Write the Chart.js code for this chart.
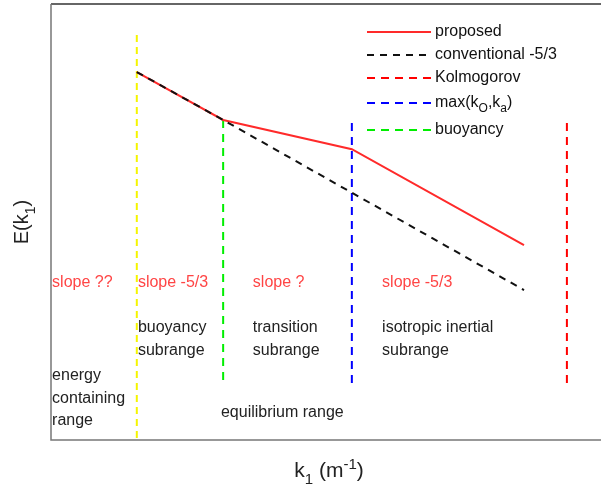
<!DOCTYPE html>
<html>
<head>
<meta charset="utf-8">
<script src="https://cdn.jsdelivr.net/npm/chart.js@4/dist/chart.umd.min.js"></script>
<style>
    html, body { margin: 0; padding: 0; background: #fff; }
    #wrap { width: 601px; height: 489px; }
</style>
</head>
<body>
<div id="wrap"><canvas id="spectrumChart" width="601" height="489"></canvas></div>
<script>
// wavenumber axis (log k, arbitrary units) and spectrum level (log E, arbitrary units)
const proposedK = [1.56, 3.13, 5.47, 8.6];
const proposedE = [8.44, 7.34, 6.67, 4.47];
const conventionalK = [1.56, 3.13, 8.6];
const conventionalE = [8.44, 7.34, 3.44];

// boundaries between ranges
const energyK = 1.56;
const buoyancyK = 3.13;
const maxKoKa = 5.47;
const kolmogorovK = 9.38;
const boundaryTopE = [9.29, 7.34, 7.27, 7.27];
const boundaryBottomE = [0, 1.31, 1.31, 1.31];

// range names written on the plot
const slopeLabels = ["slope ??", "slope -5/3", "slope ?", "slope -5/3"];
const rangeLabels = [
    ["energy", "containing", "range"],
    ["buoyancy", "subrange"],
    ["transition", "subrange"],
    ["isotropic inertial", "subrange"],
    ["equilibrium range"]
];

const FONT = "'Liberation Sans', Arial, sans-serif";

function vline(x, top, bottom, color, dash) {
    return {
        data: [{ x: x, y: top }, { x: x, y: bottom }],
        borderColor: color,
        borderWidth: 2,
        borderDash: dash,
        pointRadius: 0,
        showLine: true,
        order: 3
    };
}

const datasets = [
    {
        label: "conventional -5/3",
        data: conventionalK.map((k, i) => ({ x: k, y: conventionalE[i] })),
        borderColor: "#111",
        borderWidth: 2,
        borderDash: [7, 6],
        pointRadius: 0,
        showLine: true,
        order: 1
    },
    {
        label: "proposed",
        data: proposedK.map((k, i) => ({ x: k, y: proposedE[i] })),
        borderColor: "#ff2a2a",
        borderWidth: 2,
        pointRadius: 0,
        showLine: true,
        order: 2
    },
    Object.assign({ label: "energy" }, vline(energyK, boundaryTopE[0], boundaryBottomE[0], "#f5f500", [7, 5])),
    Object.assign({ label: "buoyancy" }, vline(buoyancyK, boundaryTopE[1], boundaryBottomE[1], "#00ee00", [8, 6])),
    Object.assign({ label: "max(kO,ka)" }, vline(maxKoKa, boundaryTopE[2], boundaryBottomE[2], "#0000ff", [8, 6])),
    Object.assign({ label: "Kolmogorov" }, vline(kolmogorovK, boundaryTopE[3], boundaryBottomE[3], "#ff0000", [8, 6]))
];

// legend entries: colour, dash, text parts (with subscripts)
const legendItems = [
    { color: "#ff2a2a", dash: [], parts: [["proposed"]] },
    { color: "#111", dash: [7, 6], parts: [["conventional -5/3"]] },
    { color: "#ff0000", dash: [8, 6], parts: [["Kolmogorov"]] },
    { color: "#0000ff", dash: [8, 6], parts: [["max(k"], ["O", "sub"], [",k"], ["a", "sub"], [")"]] },
    { color: "#00ee00", dash: [8, 6], parts: [["buoyancy"]] }
];
const legendRows = [32, 55, 78, 103, 130];

function drawParts(ctx, parts, x, y, size) {
    parts.forEach(p => {
        const small = p[1] === "sub" || p[1] === "sup";
        const fs = small ? Math.round(size * 0.72) : size;
        ctx.font = fs + "px " + FONT;
        const dy = p[1] === "sub" ? size * 0.35 : p[1] === "sup" ? -size * 0.4 : 0;
        ctx.fillText(p[0], x, y + dy);
        x += ctx.measureText(p[0]).width;
    });
    return x;
}

function partsWidth(ctx, parts, size) {
    let w = 0;
    parts.forEach(p => {
        ctx.font = (p[1] ? Math.round(size * 0.72) : size) + "px " + FONT;
        w += ctx.measureText(p[0]).width;
    });
    return w;
}

const decorations = {
    id: "decorations",
    afterDatasetsDraw(chart) {
        const ctx = chart.ctx;
        const a = chart.chartArea;
        const xs = chart.scales.x, ys = chart.scales.y;
        ctx.save();

        // frame
        ctx.lineWidth = 1.5;
        ctx.strokeStyle = "#333";
        ctx.beginPath();
        ctx.moveTo(a.left, a.top);
        ctx.lineTo(a.right, a.top);
        ctx.stroke();
        ctx.strokeStyle = "#777";
        ctx.beginPath();
        ctx.moveTo(a.left, a.top);
        ctx.lineTo(a.left, a.bottom);
        ctx.lineTo(a.right, a.bottom);
        ctx.stroke();

        // legend
        ctx.textBaseline = "middle";
        ctx.textAlign = "left";
        legendItems.forEach((it, i) => {
            const y = legendRows[i];
            ctx.strokeStyle = it.color;
            ctx.lineWidth = 2;
            ctx.setLineDash(it.dash);
            ctx.beginPath();
            ctx.moveTo(367, y);
            ctx.lineTo(431, y);
            ctx.stroke();
            ctx.setLineDash([]);
            ctx.fillStyle = "#111";
            drawParts(ctx, it.parts, 435, y, 16);
        });

        // slope labels
        const slopeX = [0.02, 1.58, 3.67, 6.02];
        ctx.font = "16px " + FONT;
        ctx.fillStyle = "#ff4545";
        slopeLabels.forEach((t, i) => {
            ctx.fillText(t, xs.getPixelForValue(slopeX[i]), ys.getPixelForValue(3.62));
        });

        // range labels
        const rangePos = [[0.02, 1.47], [1.58, 2.57], [3.67, 2.57], [6.02, 2.57], [3.09, 0.64]];
        ctx.fillStyle = "#222";
        ctx.font = "16px " + FONT;
        rangeLabels.forEach((lines, i) => {
            const x = xs.getPixelForValue(rangePos[i][0]);
            const y0 = ys.getPixelForValue(rangePos[i][1]);
            lines.forEach((t, j) => ctx.fillText(t, x, y0 + j * 22.5));
        });

        // axis titles
        ctx.fillStyle = "#222";
        ctx.textBaseline = "alphabetic";
        const xParts = [["k"], ["1", "sub"], [" (m"], ["-1", "sup"], [")"]];
        drawParts(ctx, xParts, 329 - partsWidth(ctx, xParts, 21) / 2, 477, 21);

        ctx.translate(28, 222);
        ctx.rotate(-Math.PI / 2);
        const yParts = [["E(k"], ["1", "sub"], [")"]];
        drawParts(ctx, yParts, -partsWidth(ctx, yParts, 20) / 2, 0, 20);

        ctx.restore();
    }
};

new Chart(document.getElementById("spectrumChart"), {
    type: "scatter",
    data: { datasets: datasets },
    options: {
        responsive: false,
        animation: false,
        layout: { padding: { left: 51, top: 4, right: 0, bottom: 49 } },
        plugins: {
            legend: { display: false },
            tooltip: { enabled: false }
        },
        scales: {
            x: { type: "linear", min: 0, max: 10, display: false },
            y: { type: "linear", min: 0, max: 10, display: false }
        },
        elements: { line: { tension: 0 } }
    },
    plugins: [decorations]
});
</script>
</body>
</html>
